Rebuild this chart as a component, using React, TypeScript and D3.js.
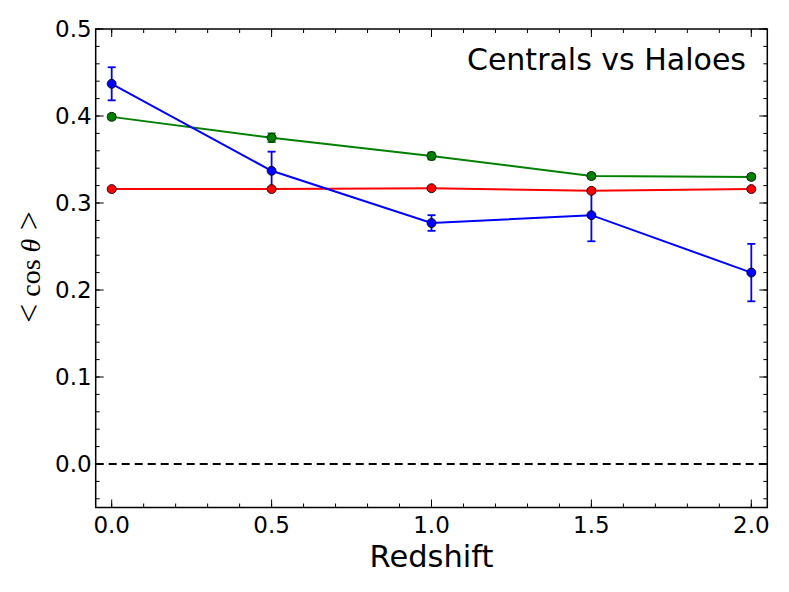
import React from "react";
import * as d3 from "d3";

// redshift bins
const redshifts = [0.0, 0.5, 1.0, 1.5, 2.0];

// mean cos(theta) per series
const blueMean = [0.437, 0.337, 0.277, 0.286, 0.22];
const blueErr = [0.019, 0.022, 0.009, 0.03, 0.033];
const greenMean = [0.399, 0.375, 0.354, 0.331, 0.33];
const greenErr = [0.003, 0.005, 0.004, 0.003, 0.003];
const redMean = [0.316, 0.316, 0.317, 0.314, 0.316];
const redErr = [0.002, 0.002, 0.002, 0.002, 0.002];

const xTicks = [0.0, 0.5, 1.0, 1.5, 2.0];
const yTicks = [0.0, 0.1, 0.2, 0.3, 0.4, 0.5];

const W = 789;
const H = 592;
const left = 95.7;
const right = 767.3;
const top = 29;
const bottom = 507.5;

const series = [
  { color: "#ff0000", mean: redMean, err: redErr },
  { color: "#008000", mean: greenMean, err: greenErr },
  { color: "#0000ff", mean: blueMean, err: blueErr },
];

const App: React.FC = () => {
  const x = d3.scaleLinear().domain([-0.05, 2.05]).range([left, right]);
  const y = d3.scaleLinear().domain([-0.05, 0.5]).range([bottom, top]);

  const xMinor = d3.range(0, 21).map((i) => i * 0.1);
  const yMinor = d3.range(-2, 26).map((i) => i * 0.02);

  const line = d3
    .line<number>()
    .x((_, i) => x(redshifts[i]))
    .y((d) => y(d));

  const tickFont = "DejaVu Sans, sans-serif";

  return (
    <svg
      width={W}
      height={H}
      style={{ position: "absolute", left: 0, top: 0, background: "#fff" }}
    >
      {/* zero line */}
      <line
        x1={left}
        x2={right}
        y1={y(0)}
        y2={y(0)}
        stroke="#000"
        strokeWidth={2}
        strokeDasharray="8,5"
      />

      {/* error bars */}
      {series.map((s, si) => (
        <g key={"e" + si} stroke={s.color} strokeWidth={1.8}>
          {s.mean.map((m, i) => {
            const cx = x(redshifts[i]);
            const y0 = y(m - s.err[i]);
            const y1 = y(m + s.err[i]);
            return (
              <g key={i}>
                <line x1={cx} x2={cx} y1={y0} y2={y1} />
                <line x1={cx - 4} x2={cx + 4} y1={y0} y2={y0} />
                <line x1={cx - 4} x2={cx + 4} y1={y1} y2={y1} />
              </g>
            );
          })}
        </g>
      ))}

      {/* lines */}
      {series.map((s, si) => (
        <path
          key={"l" + si}
          d={line(s.mean) || ""}
          fill="none"
          stroke={s.color}
          strokeWidth={2}
        />
      ))}

      {/* markers */}
      {series.map((s, si) => (
        <g key={"m" + si}>
          {s.mean.map((m, i) => (
            <circle
              key={i}
              cx={x(redshifts[i])}
              cy={y(m)}
              r={4.5}
              fill={s.color}
              stroke="#000"
              strokeWidth={0.8}
            />
          ))}
        </g>
      ))}

      {/* ticks */}
      <g stroke="#000" strokeWidth={1}>
        {xMinor.map((t, i) => (
          <g key={"xm" + i}>
            <line x1={x(t)} x2={x(t)} y1={bottom} y2={bottom - 4} />
            <line x1={x(t)} x2={x(t)} y1={top} y2={top + 4} />
          </g>
        ))}
        {xTicks.map((t, i) => (
          <g key={"xM" + i}>
            <line x1={x(t)} x2={x(t)} y1={bottom} y2={bottom - 8} />
            <line x1={x(t)} x2={x(t)} y1={top} y2={top + 8} />
          </g>
        ))}
        {yMinor.map((t, i) => (
          <g key={"ym" + i}>
            <line x1={left} x2={left + 4} y1={y(t)} y2={y(t)} />
            <line x1={right} x2={right - 4} y1={y(t)} y2={y(t)} />
          </g>
        ))}
        {yTicks.map((t, i) => (
          <g key={"yM" + i}>
            <line x1={left} x2={left + 8} y1={y(t)} y2={y(t)} />
            <line x1={right} x2={right - 8} y1={y(t)} y2={y(t)} />
          </g>
        ))}
      </g>

      {/* frame */}
      <rect
        x={left}
        y={top}
        width={right - left}
        height={bottom - top}
        fill="none"
        stroke="#000"
        strokeWidth={1.5}
      />

      {/* tick labels */}
      <g fontFamily={tickFont} fontSize={23} fill="#000">
        {xTicks.map((t, i) => (
          <text key={"xl" + i} x={x(t)} y={533.3} textAnchor="middle">
            {d3.format(".1f")(t)}
          </text>
        ))}
        {yTicks.map((t, i) => (
          <text
            key={"yl" + i}
            x={91.7}
            y={y(t)}
            dy="0.36em"
            textAnchor="end"
          >
            {d3.format(".1f")(t)}
          </text>
        ))}
      </g>

      {/* title */}
      <text
        x={746}
        y={70}
        textAnchor="end"
        fontFamily={tickFont}
        fontSize={30}
        fill="#000"
      >
        Centrals vs Haloes
      </text>

      {/* axis labels */}
      <text
        x={(left + right) / 2}
        y={566.7}
        textAnchor="middle"
        fontFamily={tickFont}
        fontSize={30.5}
        fill="#000"
      >
        Redshift
      </text>
      <text
        transform="translate(40,267) rotate(-90)"
        textAnchor="middle"
        fontFamily="Liberation Serif, serif"
        fontSize={28}
        fill="#000"
      >
        <tspan fontSize={34}>{"<"}</tspan>
        {" cos "}
        <tspan fontStyle="italic">θ</tspan>
        <tspan fontSize={34}>{" >"}</tspan>
      </text>
    </svg>
  );
};

export default App;
